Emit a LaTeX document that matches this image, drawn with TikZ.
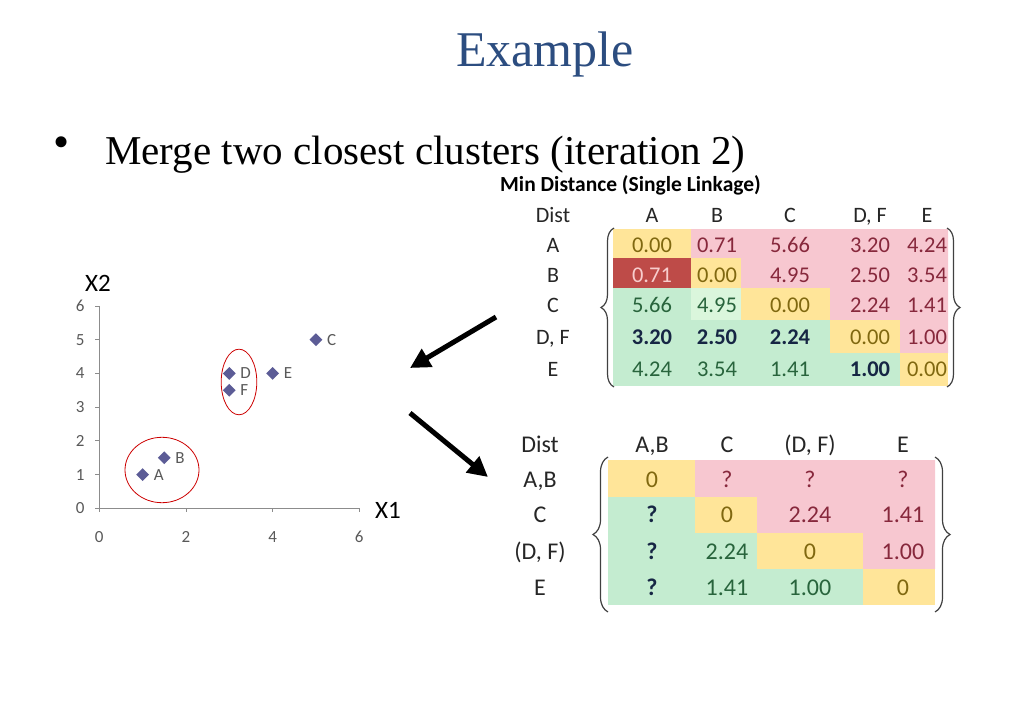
\documentclass[tikz,border=0pt]{standalone}
\usepackage{fontspec}
\setmainfont{Liberation Serif}
\newfontfamily\calfont{Carlito}
\usetikzlibrary{shapes.geometric,decorations.pathreplacing,arrows.meta}
\definecolor{titleblue}{RGB}{44,77,128}
\definecolor{cyel}{RGB}{255,229,153}
\definecolor{cpink}{RGB}{247,199,208}
\definecolor{cgreen}{RGB}{196,236,208}
\definecolor{clight}{RGB}{218,246,220}
\definecolor{cdark}{RGB}{190,75,72}
\definecolor{tyel}{RGB}{128,104,16}
\definecolor{tpink}{RGB}{135,40,60}
\definecolor{tgreen}{RGB}{40,100,60}
\definecolor{tnavy}{RGB}{22,38,68}
\definecolor{tdark}{RGB}{248,205,205}
\definecolor{ptblue}{RGB}{92,92,150}
\tikzset{
  num/.style={font=\calfont\fontsize{22.5}{22.5}\selectfont, inner sep=0pt, text height=14.5pt, text depth=0pt},
  ye/.style={num, text=tyel},
  pk/.style={num, text=tpink},
  gr/.style={num, text=tgreen},
  dk/.style={num, text=tdark},
  nb/.style={num, font=\calfont\bfseries\fontsize{22.5}{22.5}\selectfont, text=tnavy},
  hd/.style={font=\calfont\fontsize{22}{22}\selectfont, text=black!85, inner sep=0pt, text height=14.2pt, text depth=0pt},
  brc/.style={decorate, decoration={brace, amplitude=13pt}, draw=black!75, line width=1.2pt},
  axis/.style={draw=black!45, line width=0.9pt},
  tick/.style={font=\calfont\fontsize{17}{17}\selectfont, text=black!65, inner sep=0pt},
  ax/.style={font=\calfont\fontsize{25}{25}\selectfont, inner sep=0pt},
  pt/.style={diamond, fill=ptblue, inner sep=0pt, minimum size=13pt},
  ring/.style={draw=red!80!black, line width=0.8pt},
  bigarrow/.style={line width=5pt, -{Triangle[length=20pt, width=20pt]}}
}
\begin{document}
\begin{tikzpicture}[x=1pt, y=-1pt]
\useasboundingbox (0,0) rectangle (1023,723);
\node[font=\fontsize{50}{50}\selectfont, text=titleblue, anchor=base, inner sep=0pt] (title) at (545,66) {Example};
\node[font=\fontsize{46}{46}\selectfont, inner sep=0pt] (dot) at (62,147) {•};
\node[font=\fontsize{41}{41}\selectfont, anchor=base west, inner sep=0pt] (txt) at (105,164) {Merge two closest clusters (iteration 2)};
\node[font=\calfont\bfseries\fontsize{21.5}{21.5}\selectfont, anchor=west, inner sep=0pt] (mind) at (500,185) {Min Distance (Single Linkage)};

\fill[cgreen] (613,229) rectangle (948,386);
\fill[cpink] (691,229) -- (948,229) -- (948,353) -- (900,353) -- (900,320) -- (830,320) -- (830,288) -- (741,288) -- (741,258) -- (691,258) -- cycle;
\foreach \xa/\ya/\xb/\yb in {613/229/691/258,691/258/741/288,741/288/830/320,830/320/900/353,900/353/948/386}
  \fill[cyel] (\xa,\ya) rectangle (\xb,\yb);
\fill[cdark] (613,258) rectangle (691,288);
\fill[clight] (691,288) rectangle (741,320);
\foreach \x/\h in {553/Dist,652/A,717/B,790/C,870/{D, F},927/E}
  \node[hd] (th\x) at (\x,215) {\h};
\foreach \h/\y [count=\r] in {A/245,B/275,C/305,{D, F}/337,E/369}
  \node[hd] (tr\r) at (553,\y) {\h};
\foreach \row [count=\r] in {{ye/0.00,pk/0.71,pk/5.66,pk/3.20,pk/4.24},{dk/0.71,ye/0.00,pk/4.95,pk/2.50,pk/3.54},{gr/5.66,gr/4.95,ye/0.00,pk/2.24,pk/1.41},{nb/3.20,nb/2.50,nb/2.24,ye/0.00,pk/1.00},{gr/4.24,gr/3.54,gr/1.41,nb/1.00,ye/0.00}}
  \foreach \s/\v [count=\c] in \row {
    \pgfmathsetmacro\xx{{652,717,790,870,927}[\c-1]}
    \pgfmathsetmacro\yy{{245,275,305,337,369}[\r-1]}
    \node[\s] (m\r\c) at (\xx,\yy) {\v};
  }
\draw[brc] (614,387) -- (614,228);
\draw[brc] (947,228) -- (947,387);

\begin{scope}[num/.style={font=\calfont\fontsize{24}{24}\selectfont, inner sep=0pt, text height=15.5pt, text depth=0pt},
  nb/.style={num, font=\calfont\bfseries\fontsize{24}{24}\selectfont, text=tnavy},
  hd/.style={font=\calfont\fontsize{24}{24}\selectfont, text=black!85, inner sep=0pt, text height=15.5pt, text depth=0pt}]
\fill[cgreen] (608,460) rectangle (935,605);
\fill[cpink] (695,460) -- (935,460) -- (935,569) -- (863,569) -- (863,533) -- (757,533) -- (757,497) -- (695,497) -- cycle;
\foreach \xa/\ya/\xb/\yb in {608/460/695/497,695/497/757/533,757/533/863/569,863/569/935/605}
  \fill[cyel] (\xa,\ya) rectangle (\xb,\yb);
\foreach \x/\h in {540/Dist,652/{A,B},727/C,810/{(D, F)},903/E}
  \node[hd] (bh\x) at (\x,445) {\h};
\foreach \h/\y [count=\r] in {{A,B}/480,C/515,{(D, F)}/552,E/588}
  \node[hd] (br\r) at (540,\y) {\h};
\foreach \row [count=\r] in {{ye/0,pk/?,pk/?,pk/?},{nb/?,ye/0,pk/2.24,pk/1.41},{nb/?,gr/2.24,ye/0,pk/1.00},{nb/?,gr/1.41,gr/1.00,ye/0}}
  \foreach \s/\v [count=\c] in \row {
    \pgfmathsetmacro\xx{{652,727,810,903}[\c-1]}
    \pgfmathsetmacro\yy{{480,515,552,588}[\r-1]}
    \node[\s] (n\r\c) at (\xx,\yy) {\v};
  }
\draw[brc, decoration={amplitude=15pt}] (608,612) -- (608,457);
\draw[brc, decoration={amplitude=15pt}] (935,457) -- (935,612);
\end{scope}

\coordinate (a1s) at (496,317);
\coordinate (a1e) at (410,368);
\coordinate (a2s) at (410,413);
\coordinate (a2e) at (488,477);
\draw[bigarrow] (a1s) -- (a1e);
\draw[bigarrow] (a2s) -- (a2e);

\begin{scope}[shift={(99.3,508.3)}, x=43.33pt, y=33.72pt]
  \draw[axis] (0,6) -- (0,0) -- (6,0);
  \foreach \k in {0,...,6} {
    \draw[axis] (0,\k) -- ++(-4pt,0pt);
    \node[tick] (yt\k) at ([xshift=-19pt]0,\k) {\k};
  }
  \foreach \k in {0,2,4,6} {
    \draw[axis] (\k,0) -- ++(0pt,-4pt);
    \node[tick] (xt\k) at ([yshift=-29pt]\k,0) {\k};
  }
  \foreach \n/\px/\py in {A/1/1,B/1.5/1.5,C/5/5,D/3/4,E/4/4,F/3/3.5} {
    \node[pt] (p\n) at (\px,\py) {};
    \node[tick, anchor=west] (l\n) at ([xshift=11pt]\px,\py) {\n};
  }
  \draw[ring] (1.447,1.136) ellipse [x radius=37pt, y radius=32.7pt];
  \draw[ring] (3.224,3.746) ellipse [x radius=17.8pt, y radius=32.8pt];
  \node[ax] (x2) at (-0.03,6.68) {X2};
  \node[ax] (x1) at (6.66,-0.05) {X1};
\end{scope}
\end{tikzpicture}
\end{document}
